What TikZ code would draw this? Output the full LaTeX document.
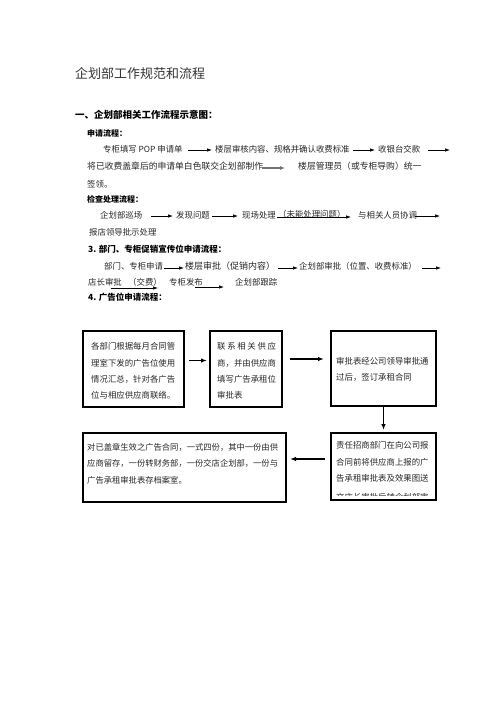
\documentclass[tikz,border=0pt]{standalone}
\usepackage{fontspec}
\usetikzlibrary{arrows.meta}
\newfontfamily\cjk{Noto Sans CJK SC}
\begin{document}
\begin{tikzpicture}[x=1pt,y=-1pt,
  txt/.style={anchor=west, inner sep=0pt, text=black!85, font=\cjk\fontsize{8.4}{10}\selectfont},
  hd/.style={anchor=west, inner sep=0pt, font=\cjk\bfseries\fontsize{8}{10}\selectfont},
  hdb/.style={anchor=west, inner sep=0pt, font=\cjk\bfseries\fontsize{8.5}{10}\selectfont},
  arr/.style={-{Latex[length=5pt,width=3.5pt]}, line width=0.7pt},
  garr/.style={-{Latex[length=5pt,width=4pt]}, line width=1.4pt, draw=black!55},
  barr/.style={-{Latex[length=6pt,width=4.5pt]}, line width=1.5pt},
  boxx/.style={draw, line width=2pt, anchor=north west, inner sep=0pt}
]
\useasboundingbox (0,0) rectangle (496,702);
% title
\node[anchor=west, inner sep=0pt, text=black!80, font=\cjk\fontsize{13}{15}\selectfont] (title) at (75,73) {企划部工作规范和流程};
\node[anchor=west, inner sep=0pt, font=\cjk\bfseries\fontsize{9.5}{11}\selectfont] (h1) at (75,115) {一、企划部相关工作流程示意图：};
% section 1
\node[hd] (s1) at (87,133) {申请流程：};
\node[txt] (p1) at (103,149) {专柜填写 POP 申请单};
\node[txt] (p2) at (215,149) {楼层审核内容、规格并确认收费标准};
\node[txt] (p3) at (378,149) {收银台交款};
\coordinate (a1s) at (188,150); \coordinate (a1e) at (212,150);
\coordinate (a2s) at (353,150); \coordinate (a2e) at (375,150);
\coordinate (a3s) at (428,150); \coordinate (a3e) at (450,150);
\draw[arr] (a1s) -- (a1e);
\draw[arr] (a2s) -- (a2e);
\draw[arr] (a3s) -- (a3e);
\node[txt, font=\cjk\fontsize{8.8}{10}\selectfont] (p4) at (87,166) {将已收费盖章后的申请单白色联交企划部制作};
\coordinate (a4s) at (262,168); \coordinate (a4e) at (285,168);
\draw[garr] (a4s) -- (a4e);
\node[txt, font=\cjk\fontsize{8.8}{10}\selectfont] (p5) at (298,166) {楼层管理员（或专柜导购）统一};
\node[txt] (p6) at (87,184) {签领。};
% section 2
\node[hd] (s2) at (87,199) {检查处理流程：};
\node[txt] (q1) at (100,215) {企划部巡场};
\node[txt] (q2) at (176,215) {发现问题};
\node[txt] (q3) at (242,215) {现场处理};
\node[txt] (q4) at (278,214) {（未能处理问题）};
\node[txt] (q5) at (358,215) {与相关人员协调};
\coordinate (b1s) at (151,216); \coordinate (b1e) at (173,216);
\coordinate (b2s) at (212,216); \coordinate (b2e) at (238,216);
\coordinate (b3s) at (277,217); \coordinate (b3e) at (351,217);
\coordinate (b4s) at (415,216); \coordinate (b4e) at (440,216);
\draw[arr] (b1s) -- (b1e);
\draw[arr] (b2s) -- (b2e);
\draw[arr] (b3s) -- (b3e);
\draw[arr] (b4s) -- (b4e);
\node[txt] (q6) at (89,232) {报店领导批示处理};
% section 3
\node[hdb] (s3) at (88,249) {3. 部门、专柜促销宣传位申请流程：};
\node[txt] (r1) at (104,266) {部门、专柜申请};
\node[txt, font=\cjk\fontsize{9}{10}\selectfont] (r2) at (185,266) {楼层审批（促销内容）};
\node[txt] (r3) at (299,266) {企划部审批（位置、收费标准）};
\coordinate (c1s) at (164,268); \coordinate (c1e) at (184,268);
\coordinate (c2s) at (278,268); \coordinate (c2e) at (298,268);
\coordinate (c3s) at (422,268); \coordinate (c3e) at (441,268);
\draw[arr] (c1s) -- (c1e);
\draw[arr] (c2s) -- (c2e);
\draw[arr] (c3s) -- (c3e);
\node[txt] (r4) at (88,282) {店长审批};
\node[txt] (r5) at (128,282) {（交费）};
\node[txt] (r6) at (169,282) {专柜发布};
\node[txt] (r7) at (235,282) {企划部跟踪};
\coordinate (c4s) at (111,288); \coordinate (c4e) at (158,288);
\coordinate (c5s) at (195,287); \coordinate (c5e) at (224,287);
\draw[arr] (c4s) -- (c4e);
\draw[arr] (c5s) -- (c5e);
% section 4
\node[hdb] (s4) at (88,297) {4. 广告位申请流程：};
% boxes
\node[boxx, minimum width=101pt, minimum height=76pt] (B1) at (82,330) {};
\node[boxx, minimum width=72pt, minimum height=76pt] (B2) at (209,330) {};
\node[boxx, minimum width=105pt, minimum height=75pt] (B3) at (330,330) {};
\node[boxx, minimum width=105pt, minimum height=67pt] (B4) at (330,432) {};
\node[boxx, minimum width=203pt, minimum height=69pt] (B5) at (82,432) {};
% box texts
\node[txt] (t11) at (91,346) {各部门根据每月合同管};
\node[txt] (t12) at (91,363) {理室下发的广告位使用};
\node[txt] (t13) at (91,379) {情况汇总，针对各广告};
\node[txt] (t14) at (91,395) {位与相应供应商联络。};
\node[txt] (t21) at (217,346) {\makebox[58.8pt][s]{联\hfill 系\hfill 相\hfill 关\hfill 供\hfill 应}};
\node[txt] (t22) at (217,363) {商，并由供应商};
\node[txt] (t23) at (217,379) {填写广告承租位};
\node[txt] (t24) at (217,395) {审批表};
\node[txt] (t31) at (336,361) {审批表经公司领导审批通};
\node[txt] (t32) at (336,377) {过后，签订承租合同};
\node[txt] (t41) at (336,445) {责任招商部门在向公司报};
\node[txt] (t42) at (336,462) {合同前将供应商上报的广};
\node[txt] (t43) at (336,478) {告承租审批表及效果图送};
\begin{scope}
\clip (331,433) rectangle (434,495.5);
\node[txt] (t44) at (336,497) {交店长审批后转企划部审};
\end{scope}
\node[txt, font=\cjk\fontsize{8.3}{10}\selectfont] (t51) at (87,447) {对已盖章生效之广告合同，一式四份，其中一份由供};
\node[txt, font=\cjk\fontsize{8.3}{10}\selectfont] (t52) at (87,463) {应商留存，一份转财务部，一份交店企划部，一份与};
\node[txt, font=\cjk\fontsize{8.3}{10}\selectfont] (t53) at (87,480) {广告承租审批表存档案室。};
% box connectors
\draw[barr] ([xshift=4pt,yshift=8.5pt]B1.east) -- ([xshift=-2pt,yshift=8.5pt]B2.west);
\draw[barr] ([xshift=7pt,yshift=10pt]B2.east) -- ([xshift=-6pt,yshift=9.5pt]B3.west);
\draw[barr] (B3.south) -- ([yshift=2pt]B4.north);
\draw[barr] ([xshift=-5pt,yshift=7.5pt]B4.west) -- ([xshift=3pt,yshift=8.5pt]B5.east);
\end{tikzpicture}
\end{document}
